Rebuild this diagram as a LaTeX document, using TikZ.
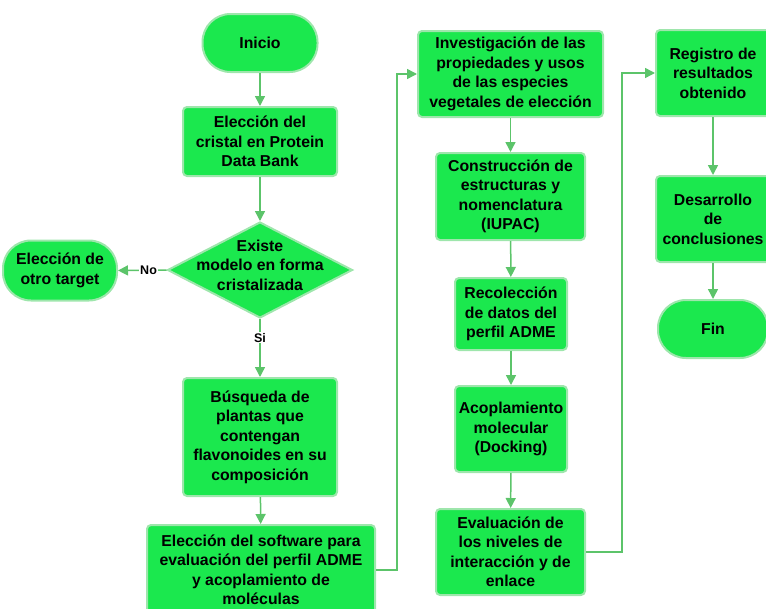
\documentclass[tikz,border=0pt]{standalone}
\usepackage{fontspec}
\setmainfont{Liberation Sans}
\usetikzlibrary{shapes.geometric,arrows.meta}
\definecolor{boxgreen}{HTML}{1BE84E}
\definecolor{edgegreen}{HTML}{9EE6AC}
\definecolor{linegreen}{HTML}{5CC46A}
\begin{document}
\begin{tikzpicture}[x=1pt, y=-1pt,
    txt/.style={align=center, font=\bfseries\fontsize{15.8}{19.5}\selectfont},
    proc/.style={txt, draw=edgegreen, line width=2pt, fill=boxgreen, rounded corners=4pt, inner sep=2pt},
    term/.style={proc, rounded corners=28pt},
    decis/.style={diamond, draw=edgegreen, line width=2pt, fill=boxgreen, inner sep=0pt},
    flow/.style={draw=linegreen, line width=1.5pt, -{Triangle[length=10pt,width=10pt]}},
    lbl/.style={fill=white, inner sep=1pt, font=\bfseries\fontsize{12.5}{14}\selectfont}]
  \useasboundingbox (0,0) rectangle (766,608);

  % First column
  \node[term, minimum width=115pt, minimum height=58pt] (inicio) at (260,43) {Inicio};
  \node[proc, minimum width=154pt, minimum height=69pt] (cristal) at (260,141.5) {Elección del\\cristal en Protein\\Data Bank};
  \node[decis, minimum width=185pt, minimum height=96pt,
        label={[txt, yshift=5pt]center:Existe\\modelo en forma\\cristalizada}] (existe) at (260,270) {};
  \node[term, minimum width=114pt, minimum height=60pt] (otro) at (60,270.5) {Elección de\\otro target};
  \node[proc, minimum width=154pt, minimum height=118pt] (busqueda) at (260,437) {Búsqueda de\\plantas que\\contengan\\flavonoides en su\\composición};
  \node[proc, minimum width=228pt, minimum height=90pt] (software) at (261,570) {Elección del software para\\evaluación del perfil ADME\\y acoplamiento de\\moléculas};

  % Second column
  \node[proc, minimum width=185pt, minimum height=86pt] (invest) at (510.5,74) {Investigación de las\\propiedades y usos\\de las especies\\vegetales de elección};
  \node[proc, minimum width=149pt, minimum height=87pt] (constr) at (510.5,196.5) {Construcción de\\estructuras y\\nomenclatura\\(IUPAC)};
  \node[proc, minimum width=112pt, minimum height=72pt] (recol) at (511,314) {Recolección\\de datos del\\perfil ADME};
  \node[proc, minimum width=112pt, minimum height=86pt] (acopl) at (511,429) {Acoplamiento\\molecular\\(Docking)};
  \node[proc, minimum width=149pt, minimum height=86pt] (evalu) at (510.5,552) {Evaluación de\\los niveles de\\interacción y de\\enlace};

  % Third column
  \node[proc, minimum width=114pt, minimum height=86pt] (registro) at (713,73) {Registro de\\resultados\\obtenido};
  \node[proc, minimum width=114pt, minimum height=86pt] (desarr) at (713,219) {Desarrollo\\de\\conclusiones};
  \node[term, minimum width=110pt, minimum height=58pt] (fin) at (713,329) {Fin};

  % Connectors
  \draw[flow] (inicio) -- (cristal);
  \draw[flow] (cristal) -- (existe);
  \draw[flow] (existe.west) -- node[lbl, pos=0.37] {No} (otro.east);
  \draw[flow] (existe.south) -- node[lbl, pos=0.32] {Si} (busqueda.north);
  \draw[flow] (busqueda) -- (software);
  \draw[flow] (software.east) -- ++(21,0) |- (invest.west);
  \draw[flow] (invest) -- (constr);
  \draw[flow] (constr) -- (recol);
  \draw[flow] (recol) -- (acopl);
  \draw[flow] (acopl) -- (evalu);
  \draw[flow] (evalu.east) -- ++(36,0) |- (registro.west);
  \draw[flow] (registro) -- (desarr);
  \draw[flow] (desarr) -- (fin);
\end{tikzpicture}
\end{document}
